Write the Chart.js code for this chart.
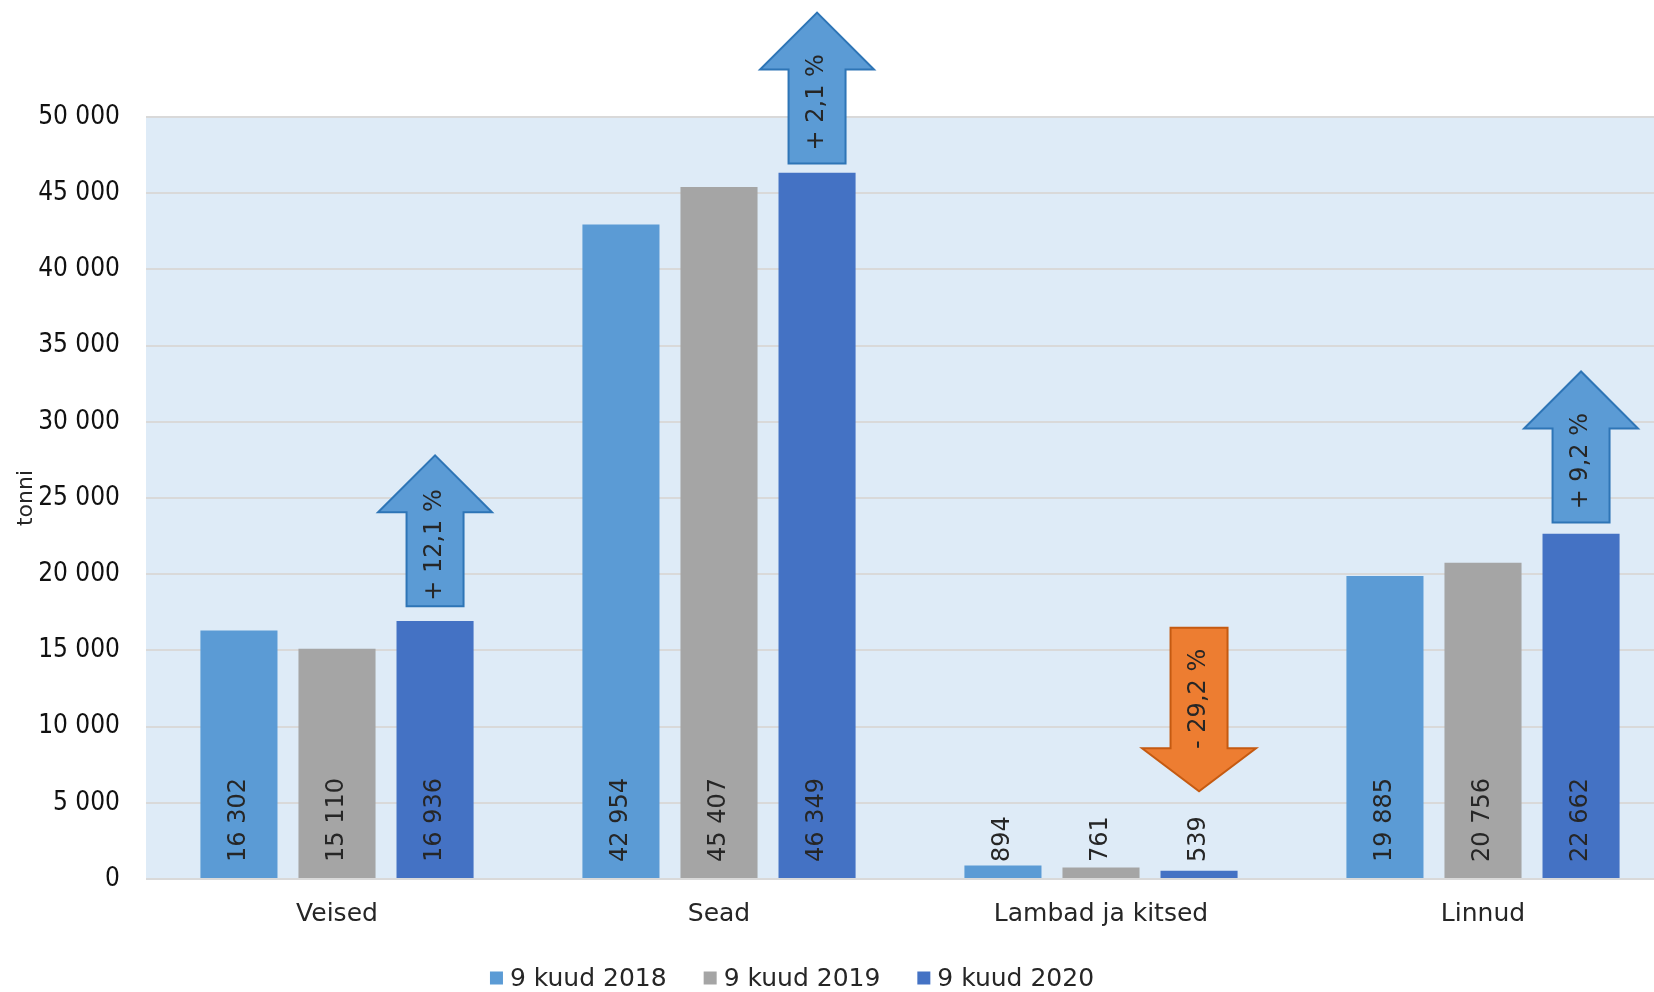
<!DOCTYPE html>
<html>
<head>
<meta charset="utf-8">
<script src="https://cdn.jsdelivr.net/npm/chart.js@4/dist/chart.umd.min.js"></script>
<style>
  html, body { margin: 0; padding: 0; background: #fff; overflow: hidden; width: 1654px; height: 992px; }
  canvas { position: absolute; left: 0; top: 0; }
</style>
</head>
<body>
<canvas id="chart" width="1680" height="992"></canvas>
<script>
const categories = ['Veised', 'Sead', 'Lambad ja kitsed', 'Linnud'];
const seriesLabels = ['9 kuud 2018', '9 kuud 2019', '9 kuud 2020'];
const values2018 = [16302, 42954, 894, 19885];
const values2019 = [15110, 45407, 761, 20756];
const values2020 = [16936, 46349, 539, 22662];

// change arrows above the 2020 bars (tail value -> tip value, in tonnes)
const arrowLabels = ['+ 12,1 %', '+ 2,1 %', '- 29,2 %', '+ 9,2 %'];
const arrowFrom = [17900, 46950, 16480, 23400];
const arrowTo = [27800, 56850, 5750, 33300];

const FONT = '"DejaVu Sans", sans-serif';
const textColor = '#262626';
const gridColor = '#D9D9D9';

const fmt = v => String(v).replace(/\B(?=(\d{3})+(?!\d))/g, ' ');

// light blue plot background
const plotBg = {
    id: 'plotBg',
    beforeDraw(chart) {
        const { ctx, chartArea: a } = chart;
        ctx.save();
        ctx.fillStyle = '#DEEBF7';
        ctx.fillRect(a.left, a.top, a.right - a.left, a.bottom - a.top);
        ctx.restore();
    }
};

// rotated value labels near the base of every bar
const barLabels = {
    id: 'barLabels',
    afterDatasetsDraw(chart) {
        const { ctx } = chart;
        ctx.save();
        ctx.font = '24px ' + FONT;
        ctx.fillStyle = textColor;
        ctx.textAlign = 'left';
        ctx.textBaseline = 'middle';
        chart.data.datasets.forEach((ds, di) => {
            chart.getDatasetMeta(di).data.forEach((bar, i) => {
                ctx.save();
                ctx.translate(bar.x, bar.base - 16);
                ctx.rotate(-Math.PI / 2);
                ctx.fillText(fmt(ds.data[i]), 0, 0);
                ctx.restore();
            });
        });
        ctx.restore();
    }
};

// block arrows with percentage change
const changeArrows = {
    id: 'changeArrows',
    afterDatasetsDraw(chart) {
        const { ctx, scales: { y } } = chart;
        const bars = chart.getDatasetMeta(2).data;
        const shaft = 57, head = 114;
        ctx.save();
        arrowLabels.forEach((label, i) => {
            const x = bars[i].x;
            const y0 = y.getPixelForValue(arrowFrom[i]);
            const y1 = y.getPixelForValue(arrowTo[i]);
            const up = y1 < y0;
            const dir = up ? -1 : 1;
            const hl = up ? 57 : 43;
            const yh = y1 - dir * hl;
            ctx.beginPath();
            ctx.moveTo(x - shaft / 2, y0);
            ctx.lineTo(x - shaft / 2, yh);
            ctx.lineTo(x - head / 2, yh);
            ctx.lineTo(x, y1);
            ctx.lineTo(x + head / 2, yh);
            ctx.lineTo(x + shaft / 2, yh);
            ctx.lineTo(x + shaft / 2, y0);
            ctx.closePath();
            ctx.fillStyle = up ? '#5B9BD5' : '#ED7D31';
            ctx.fill();
            ctx.lineWidth = 2;
            ctx.strokeStyle = up ? '#2E75B6' : '#C55A11';
            ctx.stroke();

            const cy = ((y0 + y1) / 2 + (y0 + yh) / 2) / 2;
            ctx.save();
            ctx.translate(x, cy);
            ctx.rotate(-Math.PI / 2);
            ctx.font = '24px ' + FONT;
            ctx.fillStyle = textColor;
            ctx.textAlign = 'center';
            ctx.textBaseline = 'middle';
            ctx.fillText(label, 0, 0);
            ctx.restore();
        });
        ctx.restore();
    }
};

// legend under the category labels
const bottomLegend = {
    id: 'bottomLegend',
    afterDraw(chart) {
        const { ctx } = chart;
        const box = 13, gapIn = 7, gapOut = 37, cy = 978, centerX = 792;
        ctx.save();
        ctx.font = '25px ' + FONT;
        ctx.textBaseline = 'middle';
        ctx.textAlign = 'left';
        const items = chart.data.datasets.map(ds => ({ text: ds.label, color: ds.backgroundColor, w: ctx.measureText(ds.label).width }));
        const total = items.reduce((s, it) => s + box + gapIn + it.w, 0) + gapOut * (items.length - 1);
        let x = centerX - total / 2;
        items.forEach(it => {
            ctx.fillStyle = it.color;
            ctx.fillRect(x, cy - box / 2, box, box);
            ctx.fillStyle = textColor;
            ctx.fillText(it.text, x + box + gapIn, cy + 1);
            x += box + gapIn + it.w + gapOut;
        });
        ctx.restore();
    }
};

new Chart(document.getElementById('chart'), {
    type: 'bar',
    data: {
        labels: categories,
        datasets: [
            { label: seriesLabels[0], data: values2018, backgroundColor: '#5B9BD5' },
            { label: seriesLabels[1], data: values2019, backgroundColor: '#A5A5A5' },
            { label: seriesLabels[2], data: values2020, backgroundColor: '#4472C4' },
        ]
    },
    options: {
        responsive: false,
        animation: false,
        devicePixelRatio: 1,
        categoryPercentage: 0.77,
        barPercentage: 0.786,
        layout: { padding: { top: 117, right: 6, bottom: 53, left: 0 } },
        plugins: { legend: { display: false }, tooltip: { enabled: false } },
        scales: {
            x: {
                grid: { display: false },
                border: { display: false },
                ticks: { color: textColor, font: { family: FONT, size: 25 }, padding: 12, maxRotation: 0 },
                afterFit: s => { s.height = 60; }
            },
            y: {
                min: 0,
                max: 50000,
                ticks: {
                    stepSize: 5000,
                    color: '#111',
                    padding: 26,
                    font: { family: '"Liberation Sans Narrow", "DejaVu Sans Condensed", "Liberation Sans", sans-serif', size: 26 },
                    callback: v => fmt(v)
                },
                grid: { color: gridColor, lineWidth: 2, drawTicks: false },
                border: { display: false },
                title: {
                    display: true,
                    text: 'tonni',
                    color: textColor,
                    font: { family: FONT, size: 22 },
                    padding: { top: 13, bottom: 0 }
                },
                afterFit: s => { s.width = 146; }
            }
        }
    },
    plugins: [plotBg, barLabels, changeArrows, bottomLegend]
});
</script>
</body>
</html>
